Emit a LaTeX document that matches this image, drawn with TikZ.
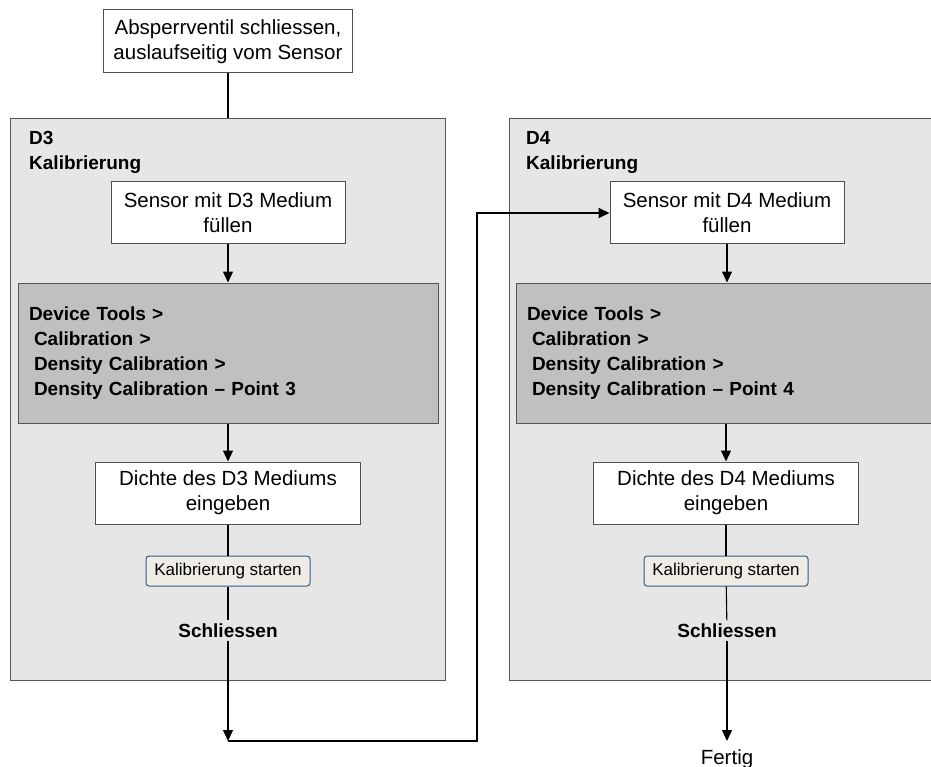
\documentclass[tikz,border=0pt]{standalone}
\usepackage{fontspec}
\setmainfont{Liberation Sans}
\usetikzlibrary{arrows.meta}
\definecolor{panelfill}{RGB}{230,230,230}
\definecolor{panelline}{RGB}{85,85,85}
\definecolor{menufill}{RGB}{192,192,192}
\definecolor{boxline}{RGB}{80,80,80}
\definecolor{btnfill}{RGB}{238,236,228}
\definecolor{btnline}{RGB}{46,92,140}
\begin{document}
\begin{tikzpicture}[x=1pt,y=-1pt,
  box/.style={draw=boxline, fill=white, line width=1pt, inner sep=0pt, align=center,
    font=\fontsize{20.5}{25}\selectfont},
  panel/.style={draw=panelline, fill=panelfill, line width=1pt, inner sep=0pt,
    minimum width=435pt, minimum height=561pt},
  menu/.style={draw=panelline, fill=menufill, line width=1pt, inner xsep=11pt, inner ysep=0pt,
    align=left, text width=398pt, minimum height=140pt,
    font=\bfseries\fontsize{19}{25}\selectfont},
  btn/.style={draw=btnline, fill=btnfill, rounded corners=3pt, line width=1pt, inner sep=0pt,
    minimum width=164pt, minimum height=30pt, font=\fontsize{17}{20}\selectfont},
  ptitle/.style={anchor=north west, inner sep=0pt, align=left,
    font=\bfseries\fontsize{19}{25}\selectfont},
  lbl/.style={font=\bfseries\fontsize{19}{23}\selectfont, inner sep=3pt},
  endlbl/.style={font=\fontsize{20.5}{23}\selectfont, inner sep=0pt, anchor=base},
  thinl/.style={line width=1.1pt},
  thickl/.style={line width=2pt},
  arr/.style={-{Triangle[width=10pt,length=11pt]}}
]
\useasboundingbox (0,0) rectangle (931,767);

% top box
\node[box, minimum width=249pt, minimum height=63pt] (start) at (228,41.5)
  {Absperrventil schliessen,\\auslaufseitig vom Sensor};

% panels
\node[panel] (p3) at (227.5,399.5) {};
\node[panel] (p4) at (726.5,399.5) {};
\node[ptitle] (t3) at (29,131.5) {D3\\Kalibrierung};
\node[ptitle] (t4) at (526,131.5) {D4\\Kalibrierung};

% left column
\node[box, minimum width=234pt, minimum height=62pt] (s3) at (228,213) {Sensor mit D3 Medium\\füllen};
\node[menu] (m3) at (228,353) {Device Tools >\\\hspace*{5pt}Calibration >\\\hspace*{5pt}Density Calibration >\\\hspace*{5pt}Density Calibration – Point 3};
\node[box, minimum width=265pt, minimum height=62pt] (d3) at (228,493) {Dichte des D3 Mediums\\eingeben};
\node[btn] (b3) at (228,571) {Kalibrierung starten};
\node[lbl] (c3) at (228,630.5) {Schliessen};

% right column
\node[box, minimum width=234pt, minimum height=62pt] (s4) at (727,213) {Sensor mit D4 Medium\\füllen};
\node[menu] (m4) at (726,353) {Device Tools >\\\hspace*{5pt}Calibration >\\\hspace*{5pt}Density Calibration >\\\hspace*{5pt}Density Calibration – Point 4};
\node[box, minimum width=265pt, minimum height=62pt] (d4) at (726,493) {Dichte des D4 Mediums\\eingeben};
\node[btn] (b4) at (726,571) {Kalibrierung starten};
\node[lbl] (c4) at (727,630.5) {Schliessen};
\node[endlbl] (fin) at (727,764) {Fertig};

\coordinate (j1) at (228,741);
\coordinate (j2) at (477,741);
\coordinate (f1) at (727,741);

% connectors
\draw[thickl] (start.south) -- (p3.north -| start.south);
\draw[thinl, arr] (s3) -- (m3.north -| s3.south);
\draw[thinl, arr] (m3.south -| d3.north) -- (d3);
\draw[thickl] (d3) -- (b3);
\draw[thinl] (b3) -- (c3);
\draw[thinl, arr] (c3) -- (j1);
\draw[thickl, arr] (j1) -- (j2) |- (s4.west);

\draw[thinl, arr] (s4) -- (m4.north -| s4.south);
\draw[thinl, arr] (m4.south -| d4.north) -- (d4);
\draw[thickl] (d4) -- (b4);
\draw[thinl] (b4) -- (c4);
\draw[thinl, arr] (c4) -- (f1);
\end{tikzpicture}
\end{document}
